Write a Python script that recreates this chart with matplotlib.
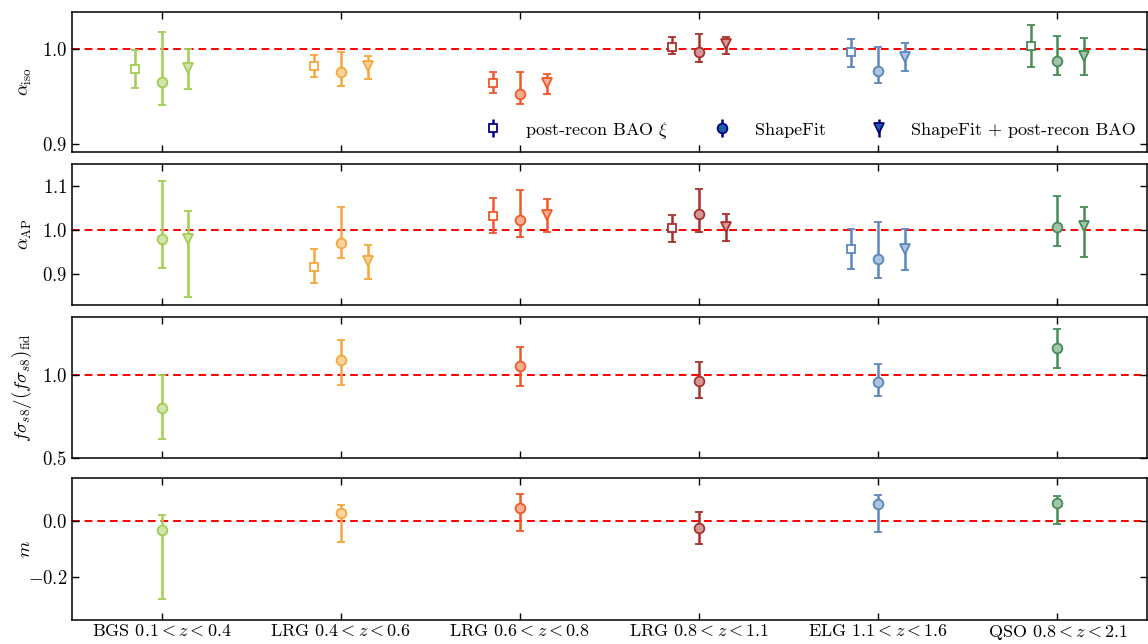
import numpy as np
import matplotlib
matplotlib.use("Agg")
import matplotlib.pyplot as plt
from matplotlib.colors import to_rgba

plt.rcParams['font.family'] = 'serif'
plt.rcParams['font.serif'] = ['cmr10']
plt.rcParams['mathtext.fontset'] = 'cm'
plt.rcParams['axes.formatter.use_mathtext'] = True
plt.rcParams['axes.unicode_minus'] = True

tracers = [r"BGS $0.1 < z < 0.4$", r"LRG $0.4 < z < 0.6$", r"LRG $0.6 < z < 0.8$",
           r"LRG $0.8 < z < 1.1$", r"ELG $1.1 < z < 1.6$", r"QSO $0.8 < z < 2.1$"]
colors = ['#a3cd55', '#f4a83c', '#f05a2b', '#a8302c', '#5a87bc', '#478c57']

# alpha_iso: (value, lower, upper) for post-recon BAO, ShapeFit, ShapeFit+BAO
aiso_bao = [0.9786, 0.9824, 0.9645, 1.0024, 0.9965, 1.003]
aiso_bao_lo = [0.9586, 0.9708, 0.9534, 0.9944, 0.9814, 0.9807]
aiso_bao_hi = [0.999, 0.9937, 0.9755, 1.013, 1.0105, 1.0253]
aiso_sf = [0.9656, 0.9758, 0.9526, 0.9965, 0.9768, 0.9877]
aiso_sf_lo = [0.9407, 0.9607, 0.942, 0.9866, 0.9639, 0.9723]
aiso_sf_hi = [1.0179, 0.9965, 0.9755, 1.0155, 1.0024, 1.0137]
aiso_comb = [0.980, 0.982, 0.9639, 1.005, 0.992, 0.9926]
aiso_comb_lo = [0.958, 0.9687, 0.9523, 0.9944, 0.9768, 0.9723]
aiso_comb_hi = [1.0, 0.9926, 0.9737, 1.013, 1.006, 1.0119]

# alpha_AP (NaN = not shown)
aap_bao = [np.nan, 0.9166, 1.033, 1.004, 0.9568, np.nan]
aap_bao_lo = [np.nan, 0.879, 0.9924, 0.973, 0.911, np.nan]
aap_bao_hi = [np.nan, 0.956, 1.073, 1.034, 1.002, np.nan]
aap_sf = [0.9788, 0.9697, 1.0227, 1.0356, 0.935, 1.0076]
aap_sf_lo = [0.915, 0.9356, 0.985, 0.996, 0.8916, 0.9636]
aap_sf_hi = [1.112, 1.053, 1.091, 1.094, 1.018, 1.077]
aap_comb = [0.979, 0.9295, 1.034, 1.0076, 0.957, 1.009]
aap_comb_lo = [0.848, 0.889, 0.996, 0.976, 0.909, 0.939]
aap_comb_hi = [1.043, 0.966, 1.07, 1.036, 1.0015, 1.052]

# f sigma_s8 ratio (ShapeFit)
fs8 = [0.7994, 1.0884, 1.052, 0.962, 0.958, 1.163]
fs8_lo = [0.6127, 0.9418, 0.934, 0.861, 0.875, 1.042]
fs8_hi = [1.003, 1.211, 1.167, 1.078, 1.068, 1.277]

# m (ShapeFit)
m_val = [-0.031, 0.0283, 0.047, -0.0247, 0.06, 0.065]
m_lo = [-0.278, -0.0767, -0.0343, -0.082, -0.039, -0.012]
m_hi = [0.0226, 0.057, 0.0978, 0.031, 0.093, 0.088]

W, H = 1148, 644
fig = plt.figure(figsize=(W / 100, H / 100), dpi=100)

def add_ax(top, bottom):
    left, right = 72, 1147
    return fig.add_axes([left / W, 1 - bottom / H, (right - left) / W, (bottom - top) / H])

axes = [add_ax(12, 152), add_ax(164, 305), add_ax(317, 458), add_ax(478, 620)]
x = np.arange(len(tracers))
dx = 0.15

def light(c, a=0.5):
    r, g, b, _ = to_rgba(c)
    return (1 - a + a * r, 1 - a + a * g, 1 - a + a * b)

def eb(ax, xs, v, lo, hi, color, marker, fill, ms, label=None):
    v = np.array(v); lo = np.array(lo); hi = np.array(hi)
    ax.errorbar(xs, v, yerr=[v - lo, hi - v], fmt=marker, color=color, mfc=fill,
                mec=color, mew=1.3, ms=ms, elinewidth=1.8, capsize=3, capthick=1.8,
                label=label, zorder=3)

def draw_three(ax, bao, bao_lo, bao_hi, sf, sf_lo, sf_hi, cb, cb_lo, cb_hi):
    for i in range(len(tracers)):
        c = colors[i]
        if not np.isnan(bao[i]):
            eb(ax, [x[i] - dx], [bao[i]], [bao_lo[i]], [bao_hi[i]], c, 's', 'white', 5.5)
        eb(ax, [x[i]], [sf[i]], [sf_lo[i]], [sf_hi[i]], c, 'o', light(c), 7)
        eb(ax, [x[i] + dx], [cb[i]], [cb_lo[i]], [cb_hi[i]], c, 'v', light(c), 7)

draw_three(axes[0], aiso_bao, aiso_bao_lo, aiso_bao_hi, aiso_sf, aiso_sf_lo, aiso_sf_hi,
           aiso_comb, aiso_comb_lo, aiso_comb_hi)
draw_three(axes[1], aap_bao, aap_bao_lo, aap_bao_hi, aap_sf, aap_sf_lo, aap_sf_hi,
           aap_comb, aap_comb_lo, aap_comb_hi)
for i in range(len(tracers)):
    c = colors[i]
    eb(axes[2], [x[i]], [fs8[i]], [fs8_lo[i]], [fs8_hi[i]], c, 'o', light(c), 7)
    eb(axes[3], [x[i]], [m_val[i]], [m_lo[i]], [m_hi[i]], c, 'o', light(c), 7)

# legend proxies
navy = '#000080'
h1 = axes[0].errorbar([], [], yerr=[], fmt='s', color=navy, mfc='white', mec=navy, mew=1.3,
                      ms=5.5, elinewidth=1.8, capsize=3, capthick=1.8)
h2 = axes[0].errorbar([], [], yerr=[], fmt='o', color=navy, mfc='#1f5fa8', mec=navy, mew=1.3,
                      ms=7, elinewidth=1.8, capsize=3, capthick=1.8)
h3 = axes[0].errorbar([], [], yerr=[], fmt='v', color=navy, mfc='#1f5fa8', mec=navy, mew=1.3,
                      ms=7, elinewidth=1.8, capsize=3, capthick=1.8)
axes[0].legend([h1, h2, h3], [r"post-recon BAO $\xi$", "ShapeFit", "ShapeFit + post-recon BAO"],
               ncol=3, frameon=False, loc='lower right', fontsize=13,
               bbox_to_anchor=(1.005, -0.035), columnspacing=1.95, handletextpad=0.8,
               handlelength=2.0)

ylims = [(0.8916, 1.039), (0.83, 1.15), (0.5, 1.35), (-0.354, 0.154)]
yticks = [[0.9, 1.0], [0.9, 1.0, 1.1], [0.5, 1.0], [-0.2, 0.0]]
ylabels = [r"$\alpha_{\rm iso}$", r"$\alpha_{\rm AP}$",
           r"$f\sigma_{s8}/(f\sigma_{s8})_{\rm fid}$", r"$m$"]
hline = [1.0, 1.0, 1.0, 0.0]

fmt_y = matplotlib.ticker.FuncFormatter(
    lambda v, p: (r"$-%.1f$" % abs(v)) if v < -1e-9 else r"$%.1f$" % abs(v))

for k, ax in enumerate(axes):
    ax.axhline(hline[k], color='red', ls='--', lw=1.4, zorder=1, dashes=(4, 2.5))
    ax.set_xlim(-0.5, 5.5)
    ax.set_ylim(*ylims[k])
    ax.set_yticks(yticks[k])
    ax.yaxis.set_major_formatter(fmt_y)
    ax.set_xticks(x)
    ax.tick_params(direction='in', top=True, right=True, length=5, width=1, labelsize=13.5)
    ax.tick_params(axis='x', pad=2.5, labelsize=13)
    ax.set_ylabel(ylabels[k], fontsize=13.5)
    for s in ax.spines.values():
        s.set_linewidth(1.1)
    if k < 3:
        ax.set_xticklabels([])
    else:
        ax.set_xticklabels(tracers)
    ax.yaxis.set_label_coords(-0.035, 0.5)

fig.savefig("out.png", dpi=100)
